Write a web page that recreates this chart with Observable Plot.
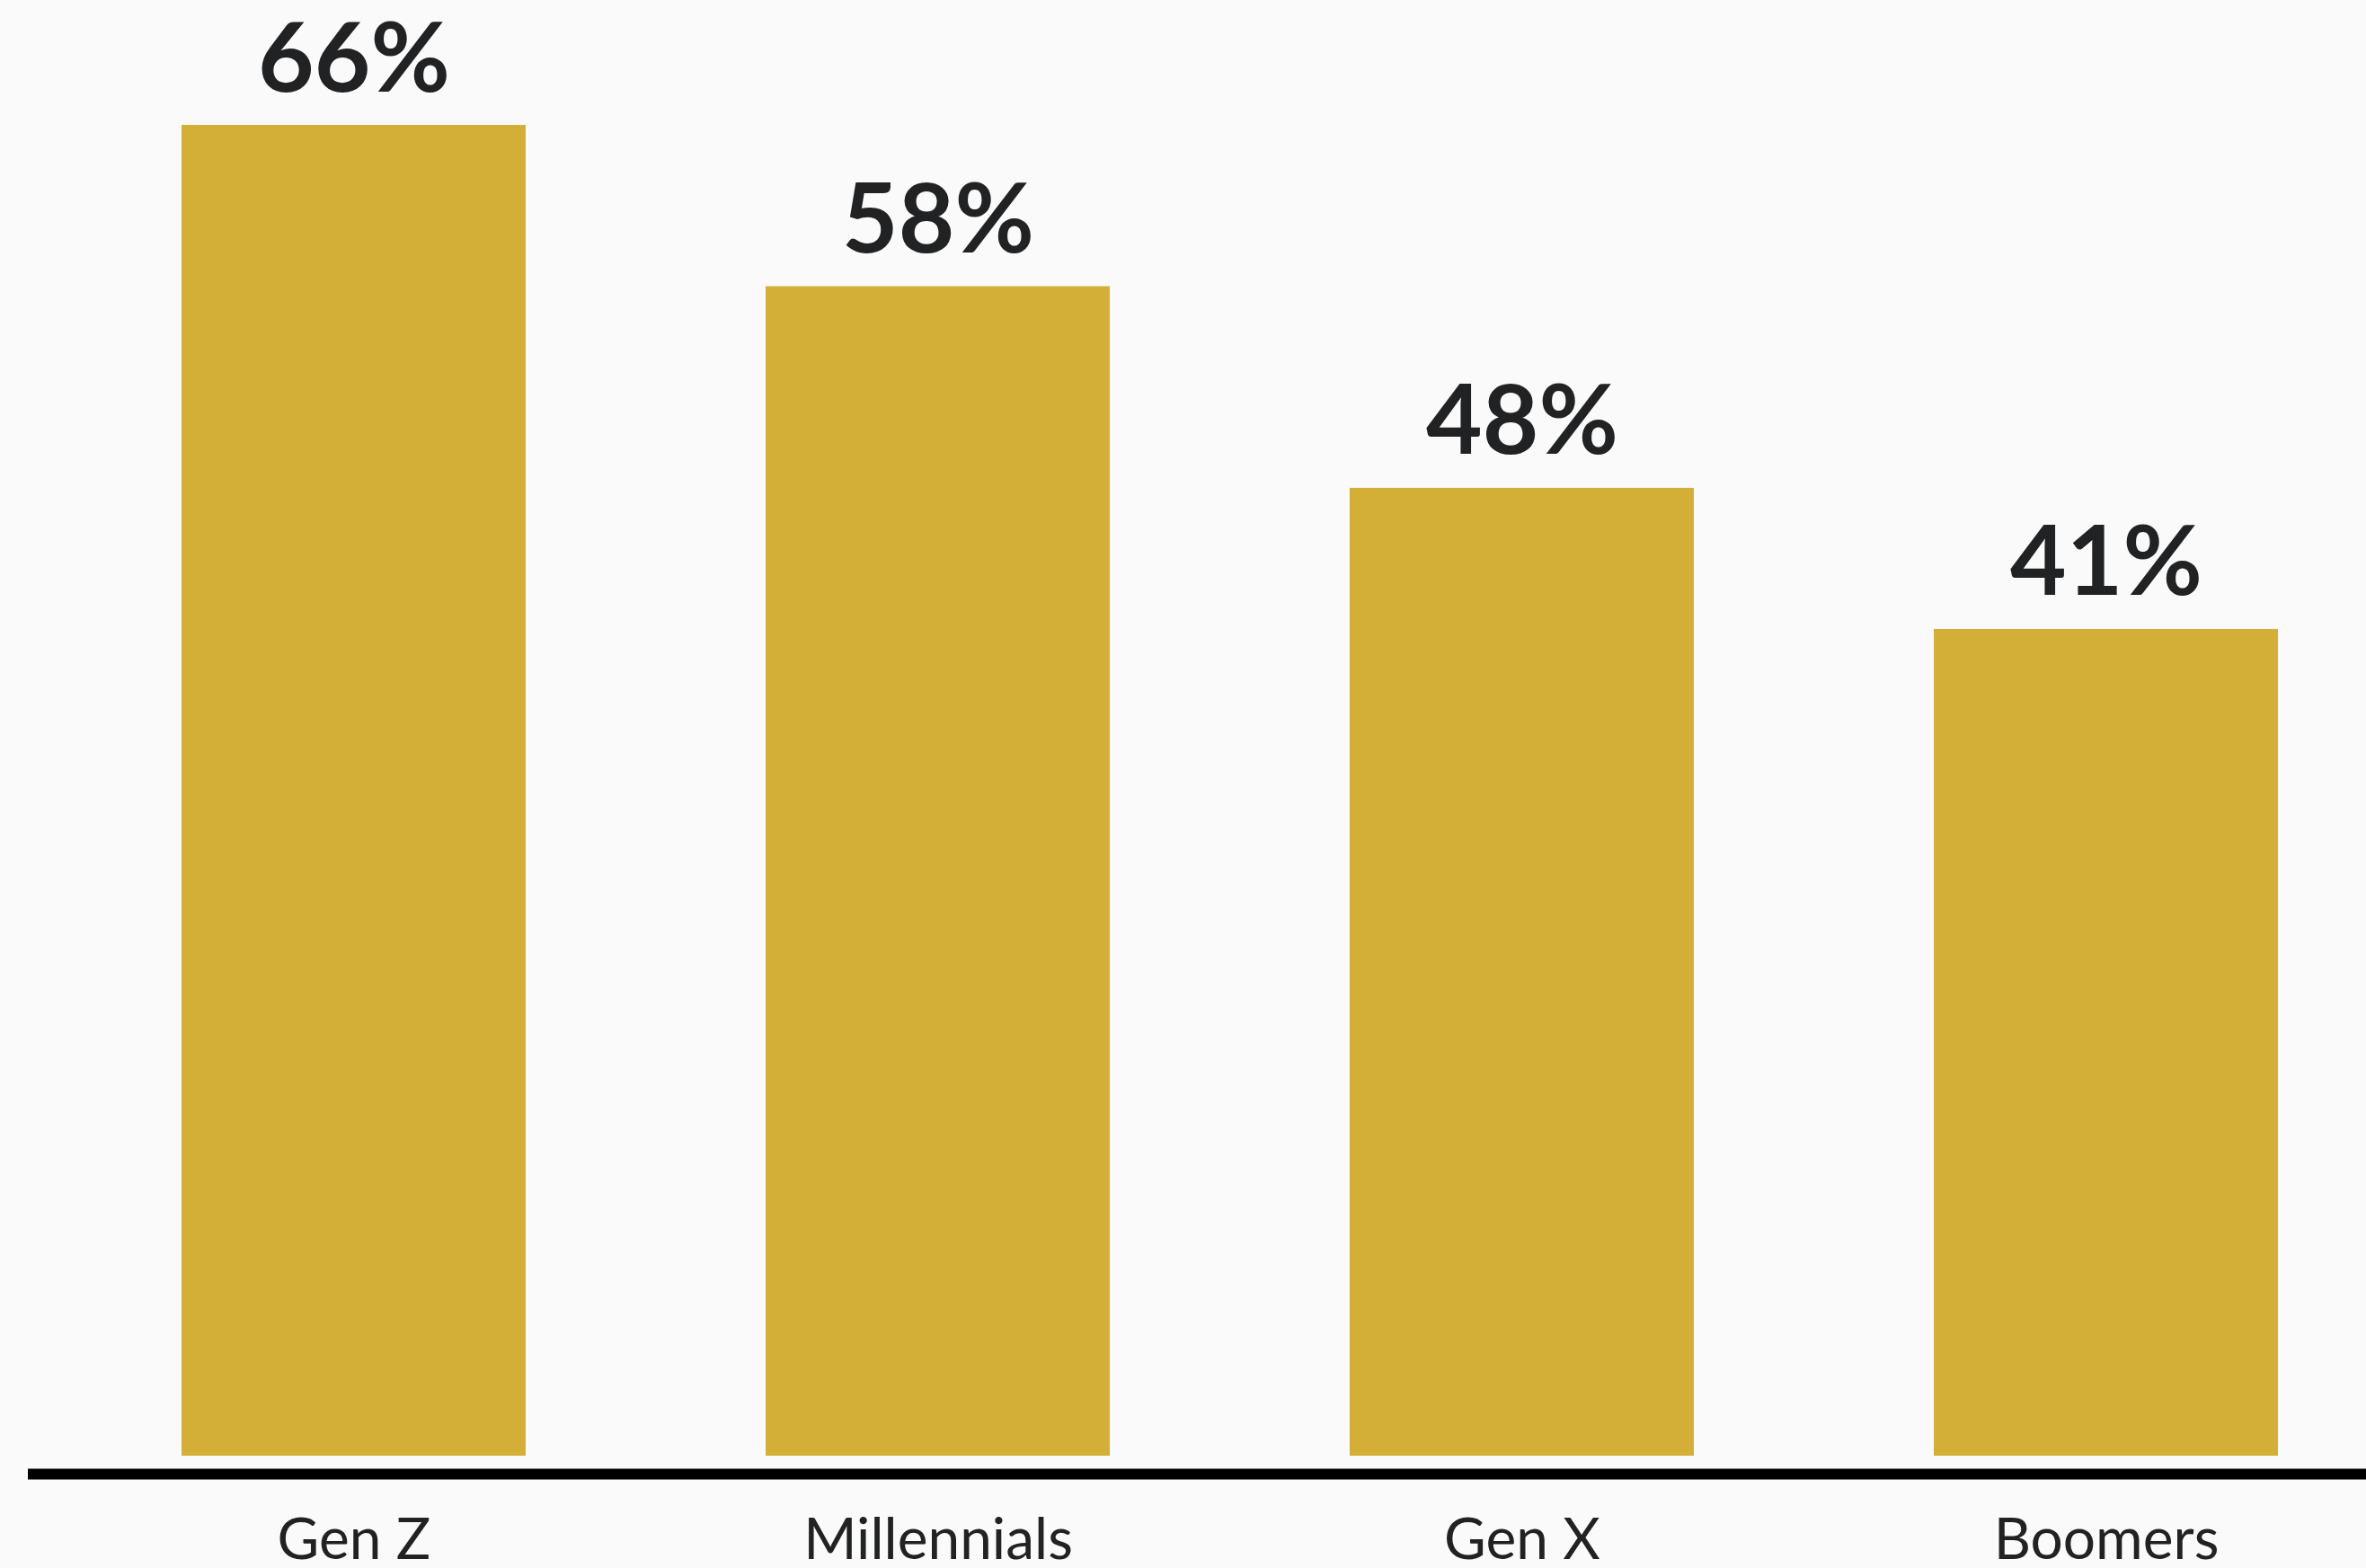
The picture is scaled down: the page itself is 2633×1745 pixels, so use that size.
<!DOCTYPE html>
<html>
<head>
<meta charset="utf-8">
<script src="https://cdn.jsdelivr.net/npm/d3@7"></script>
<script src="https://cdn.jsdelivr.net/npm/@observablehq/plot@0.6"></script>
<style>
  html, body { margin: 0; padding: 0; background: #f9faf9; }
  #chart svg { display: block; }
</style>
</head>
<body>
<div id="chart"></div>
<script>
const categories = ["Gen Z", "Millennials", "Gen X", "Boomers"];
const values = [66, 58, 48, 41];
const valueLabels = ["66%", "58%", "48%", "41%"];

const data = categories.map((c, i) => ({category: c, value: values[i], label: valueLabels[i]}));

const chart = Plot.plot({
  width: 2633,
  height: 1745,
  marginTop: 139,
  marginBottom: 125,
  marginLeft: 31,
  marginRight: 0,
  style: {background: "#f9faf9", fontFamily: "Lato, 'Noto Sans', sans-serif", color: "#212224"},
  x: {domain: categories, range: [-66.5, 2803], padding: 0.4112, label: null},
  y: {domain: [0, 66], axis: null},
  marks: [
    Plot.barY(data, {x: "category", y: "value", fill: "#d4af37"}),
    Plot.ruleY([0], {stroke: "#000", strokeWidth: 12, dy: 20}),
    Plot.text(data, {
      x: "category", y: "value", text: "label",
      lineAnchor: "bottom", dy: -38,
      fontSize: 108, fontWeight: 700, fill: "#212224"
    }),
    Plot.axisX({
      tickSize: 0, tickPadding: 0, label: null,
      lineAnchor: "bottom", dy: 114,
      fontSize: 64, fill: "#212224"
    })
  ]
});
document.getElementById("chart").appendChild(chart);
</script>
</body>
</html>
